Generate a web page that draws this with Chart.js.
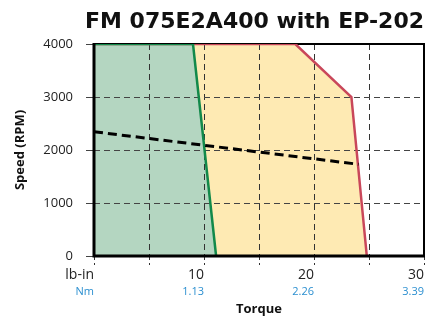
<!DOCTYPE html>
<html>
<head>
    <title>FM 075E2A400 with EP-202</title>
    <script src="https://cdn.jsdelivr.net/npm/chart.js@4.4.0/dist/chart.umd.min.js"></script>
    <style>
        body { margin: 0; background: #fff; }
    </style>
</head>
<body>
<canvas id="speedChart" width="431" height="322"></canvas>
<script>
    // continuous zone (green)
    const contTorque = [0, 9.0, 11.1];
    const contSpeed = [4000, 4000, 0];
    // intermittent zone (red / yellow)
    const peakTorque = [0, 18.3, 23.4, 24.8];
    const peakSpeed = [4000, 4000, 3000, 0];
    // dashed line
    const lineTorque = [0, 24.05];
    const lineSpeed = [2345, 1730];

    // x axis labels (lb-in row and Nm row)
    const tickValues = [0, 10, 20, 30];
    const lbInLabels = ['lb-in', '10', '20', '30'];
    const nmLabels = ['Nm', '1.13', '2.26', '3.39'];

    function points(xs, ys) {
        return xs.map((x, i) => ({x: x, y: ys[i]}));
    }
    function labelFor(list) {
        return function (value) {
            const i = tickValues.indexOf(value);
            return i >= 0 ? list[i] : '';
        };
    }

    Chart.defaults.font.family = "'Open Sans', sans-serif";
    Chart.defaults.color = '#222';

    // grid over the fills, box border around the plot
    const frame = {
        id: 'frame',
        beforeDatasetsDraw(chart) {
            const a = chart.chartArea, ctx = chart.ctx;
            chart.scales.x.drawGrid(a);
            chart.scales.y.drawGrid(a);
            ctx.save();
            ctx.strokeStyle = '#000';
            ctx.lineWidth = 2;
            ctx.beginPath();
            ctx.moveTo(a.left, a.top);
            ctx.lineTo(a.right, a.top);
            ctx.lineTo(a.right, a.bottom);
            ctx.stroke();
            ctx.restore();
        },
        afterDatasetsDraw(chart) {
            const a = chart.chartArea, ctx = chart.ctx;
            ctx.save();
            ctx.strokeStyle = '#000';
            ctx.lineWidth = 3;
            ctx.beginPath();
            ctx.moveTo(a.left, a.top - 1);
            ctx.lineTo(a.left, a.bottom);
            ctx.lineTo(a.right + 1, a.bottom);
            ctx.stroke();
            ctx.restore();
        }
    };

    new Chart('speedChart', {
        type: 'line',
        data: {
            datasets: [{
                data: points(lineTorque, lineSpeed),
                borderColor: '#000',
                borderWidth: 3,
                borderDash: [9, 5],
                pointRadius: 0,
                fill: false
            }, {
                data: points(contTorque, contSpeed),
                borderColor: '#12894a',
                backgroundColor: '#b4d6c1',
                borderWidth: 2.5,
                pointRadius: 0,
                fill: 'origin'
            }, {
                data: points(peakTorque, peakSpeed),
                borderColor: '#c9475a',
                backgroundColor: '#feeab3',
                borderWidth: 2.5,
                pointRadius: 0,
                fill: 'origin'
            }]
        },
        options: {
            responsive: false,
            animation: false,
            layout: {padding: {left: 0, right: 7, top: 0, bottom: 0}},
            plugins: {
                legend: {display: false},
                tooltip: {enabled: false},
                filler: {drawTime: 'beforeDatasetsDraw'},
                title: {
                    display: true,
                    text: 'FM 075E2A400 with EP-202',
                    align: 'end',
                    color: '#111',
                    font: {family: "'DejaVu Sans', sans-serif", size: 22, weight: 'bold'},
                    padding: {top: 9, bottom: 8.6}
                }
            },
            scales: {
                x: {
                    type: 'linear',
                    position: 'bottom',
                    min: 0,
                    max: 30,
                    afterFit: s => { s.height = 28; },
                    ticks: {
                        stepSize: 5,
                        autoSkip: false,
                        maxRotation: 0,
                        align: 'end',
                        padding: 2,
                        font: {size: 14},
                        callback: labelFor(lbInLabels)
                    },
                    grid: {
                        color: '#333',
                        tickBorderDash: [4, 3],
                        tickLength: 9
                    },
                    border: {display: false, dash: [6, 4]}
                },
                x2: {
                    type: 'linear',
                    position: 'bottom',
                    min: 0,
                    max: 30,
                    afterFit: s => { s.height = 38; },
                    ticks: {
                        stepSize: 10,
                        autoSkip: false,
                        maxRotation: 0,
                        align: 'end',
                        padding: 1,
                        color: '#2b8fd0',
                        font: {size: 11},
                        callback: labelFor(nmLabels)
                    },
                    grid: {display: false, drawTicks: false, tickLength: 0},
                    border: {display: false},
                    title: {
                        display: true,
                        text: 'Torque',
                        color: '#111',
                        font: {size: 13, weight: 'bold'},
                        padding: {top: 5, bottom: 5}
                    }
                },
                y: {
                    min: 0,
                    max: 4000,
                    afterFit: s => { s.width = 94; },
                    ticks: {
                        stepSize: 1000,
                        padding: 13,
                        font: {size: 13},
                        callback: v => String(v)
                    },
                    grid: {
                        color: '#444',
                        tickBorderDash: [],
                        tickLength: 8
                    },
                    border: {display: false, dash: [6, 4]},
                    title: {
                        display: true,
                        text: 'Speed (RPM)',
                        color: '#111',
                        font: {size: 13, weight: 'bold'},
                        padding: {top: 12, bottom: 12}
                    }
                }
            }
        },
        plugins: [frame]
    });
</script>
</body>
</html>
